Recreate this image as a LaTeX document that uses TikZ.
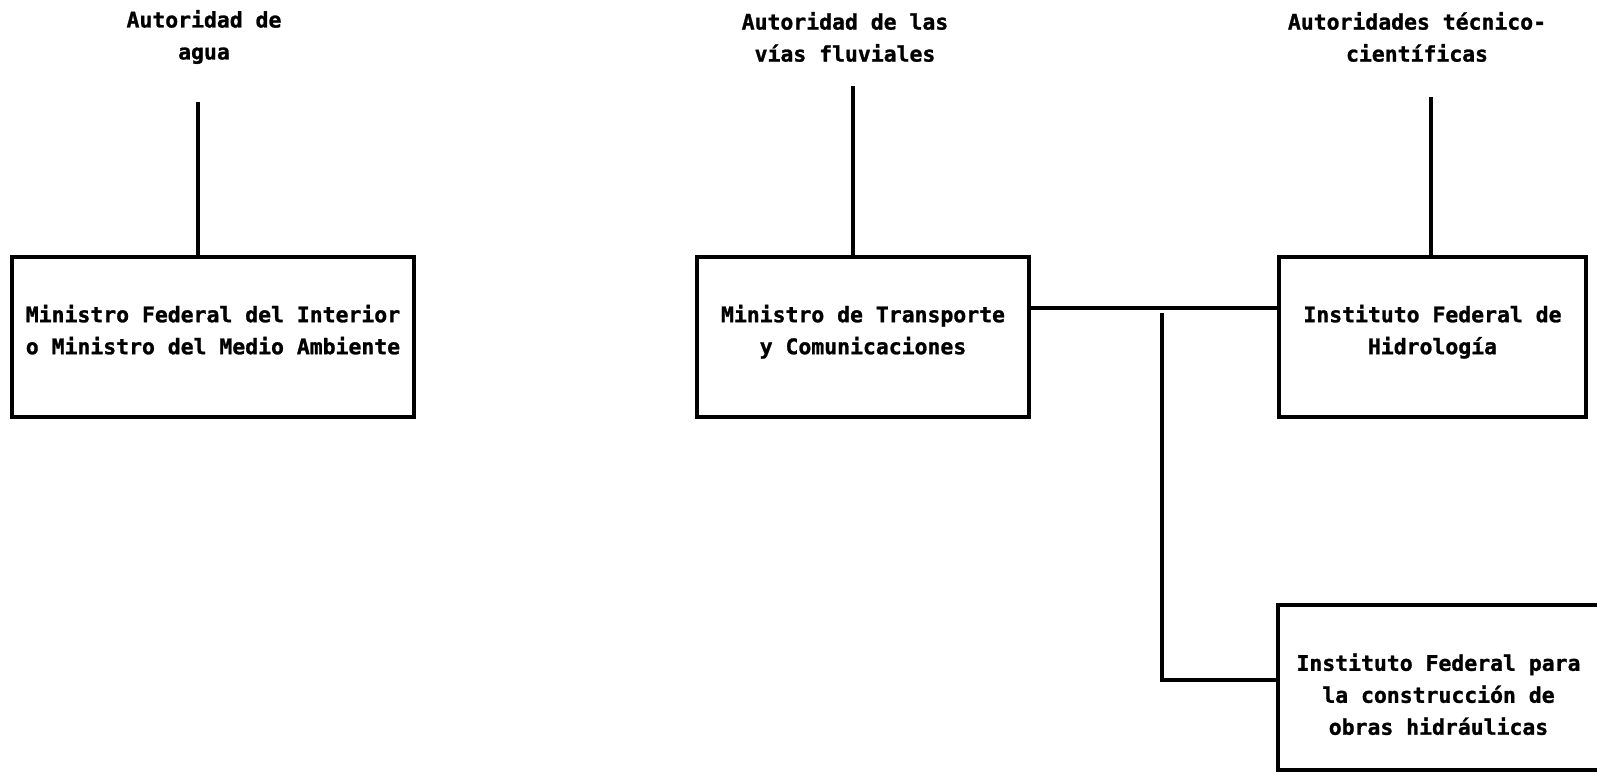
\documentclass[tikz,border=0pt]{standalone}
\usepackage{fontspec}
\setmonofont{DejaVu Sans Mono}[BoldFeatures={FakeBold=1.2}]

\tikzstyle{impreso}=[font=\ttfamily\bfseries\fontsize{12.2}{18.2}\selectfont]
\tikzstyle{autoridad}=[impreso, align=center, inner sep=0pt]
\tikzstyle{organo}=[impreso, draw=black, line width=2pt, align=center, inner sep=0pt, minimum height=3.2cm, text depth=0.3cm]
\tikzstyle{enlace}=[line width=2pt]

\begin{document}
\begin{tikzpicture}
	\useasboundingbox (0,0) rectangle (31.94,15.5);

	% Autoridades
	\node[autoridad] (aut agua)    at ( 4.08,14.76) {Autoridad de\\agua};
	\node[autoridad] (aut vias)    at (16.90,14.76) {Autoridad de las\\vías fluviales};
	\node[autoridad] (aut tecnica) at (28.34,14.76) {Autoridades técnico-\\científicas};

	% Ministerios e institutos
	\node[organo, minimum width=8.04cm] (interior)   at ( 4.26,8.76) {Ministro Federal del Interior\\o Ministro del Medio Ambiente};
	\node[organo, minimum width=6.64cm] (transporte) at (17.26,8.76) {Ministro de Transporte\\y Comunicaciones};
	\node[organo, minimum width=6.14cm] (hidrologia) at (28.65,8.76) {Instituto Federal de\\Hidrología};
	\node[organo, draw=none, minimum width=6.34cm, minimum height=3.22cm, text height=1.89cm, text depth=0cm] (obras) at (28.77,1.75) {Instituto Federal para\\la construcción de\\obras hidráulicas};
	\draw[enlace] (obras.north east) -- (obras.north west) -- (obras.south west) -- (obras.south east);

	% Lineas de autoridad
	\coordinate (pie agua)    at ( 3.96,13.46);
	\coordinate (pie vias)    at (17.06,13.78);
	\coordinate (pie tecnica) at (28.62,13.56);
	\draw[enlace] (pie agua) -- (pie agua |- interior.north);
	\draw[enlace] (pie vias) -- (pie vias |- transporte.north);
	\draw[enlace] (pie tecnica) -- (pie tecnica |- hidrologia.north);

	% Enlaces entre organos
	\coordinate (nivel) at (0,9.34);
	\coordinate (ramal) at (23.24,9.24);
	\draw[enlace] (transporte.east |- nivel) -- (hidrologia.west |- nivel);
	\draw[enlace] (ramal) |- ([yshift=0.15cm]obras.west);
\end{tikzpicture}
\end{document}
